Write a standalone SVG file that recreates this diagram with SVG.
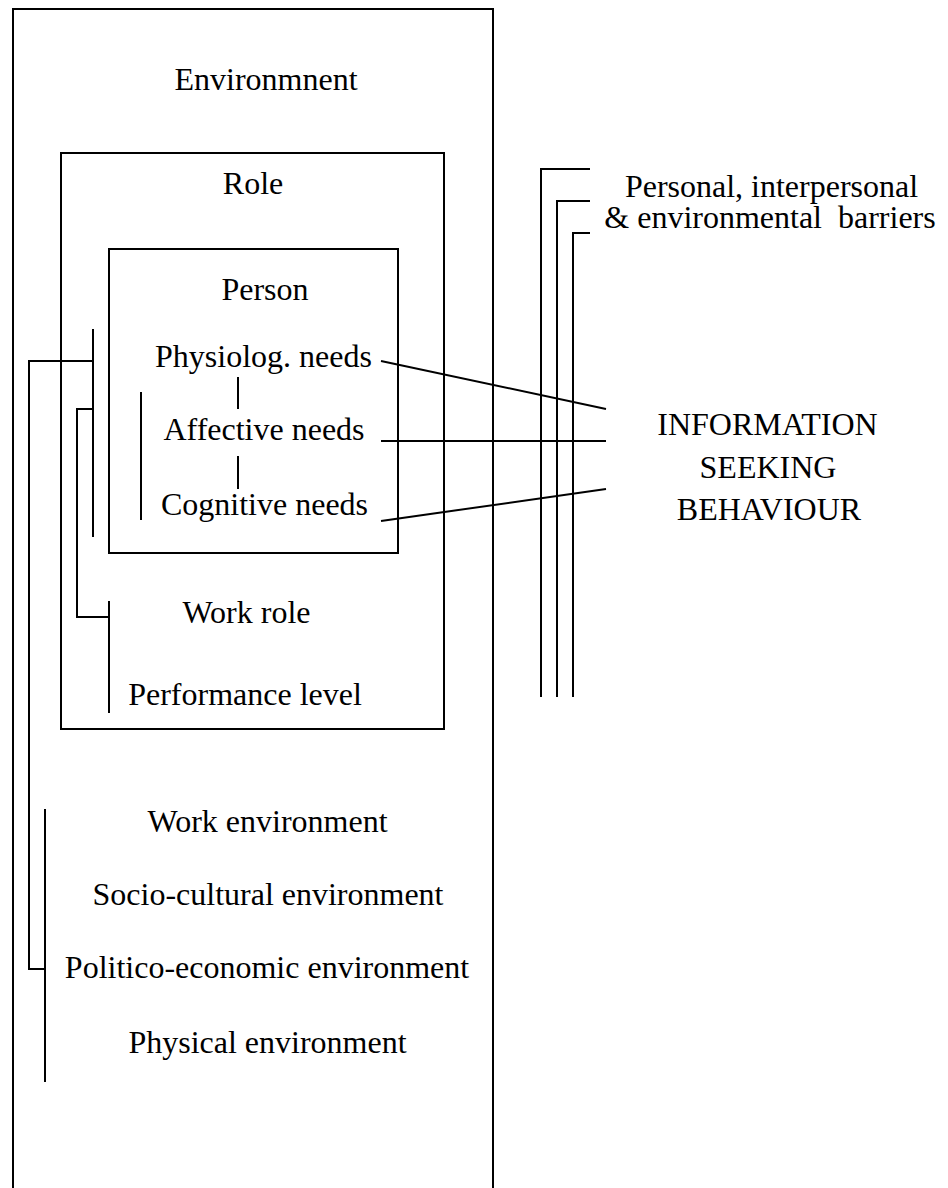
<svg xmlns="http://www.w3.org/2000/svg" width="948" height="1188" viewBox="0 0 948 1188">
<style>
text{font-family:"Liberation Serif","Times New Roman",serif;font-size:32px;fill:#000;text-anchor:middle}
.b{fill:none;stroke:#000;stroke-width:2}
.c line,.c polyline{fill:none;stroke:#000;stroke-width:2}
</style>
<rect width="948" height="1188" fill="#fff"/>
<g id="environment">
<rect class="b" x="13" y="9" width="480" height="1200"/>
<text x="266" y="90">Environmnent</text>
<text x="267.5" y="832">Work environment</text>
<text x="268" y="905">Socio-cultural environment</text>
<text x="267" y="978">Politico-economic environment</text>
<text x="267.5" y="1053">Physical environment</text>
</g>
<g id="role">
<rect class="b" x="61" y="153" width="383" height="576"/>
<text x="253" y="194">Role</text>
<text x="246.5" y="623">Work role</text>
<text x="245" y="705">Performance level</text>
</g>
<g id="person">
<rect class="b" x="109" y="249" width="289" height="304"/>
<text x="265" y="300">Person</text>
<text x="263.5" y="367">Physiolog. needs</text>
<text x="264" y="440">Affective needs</text>
<text x="264.5" y="515">Cognitive needs</text>
</g>
<g id="info">
<text x="767.5" y="435">INFORMATION</text>
<text x="768" y="478">SEEKING</text>
<text x="769" y="520">BEHAVIOUR</text>
</g>
<g id="barriers">
<text x="771.5" y="197">Personal, interpersonal</text>
<text x="770" y="228" xml:space="preserve">&amp; environmental  barriers</text>
</g>
<g id="connectors" class="c">
<line x1="238" y1="377" x2="238" y2="409"/>
<line x1="238" y1="456" x2="238" y2="489"/>
<line x1="141" y1="392" x2="141" y2="520"/>
<line x1="93" y1="329" x2="93" y2="537"/>
<polyline points="93,361 29,361 29,969 45,969"/>
<line x1="45" y1="809" x2="45" y2="1082"/>
<polyline points="93,409 77,409 77,617 109,617"/>
<line x1="109" y1="601" x2="109" y2="713"/>
<line x1="381" y1="361" x2="606" y2="409"/>
<line x1="381" y1="441" x2="606" y2="441"/>
<line x1="381" y1="521" x2="606" y2="489"/>
<polyline points="590,169 541,169 541,697"/>
<polyline points="590,201 557,201 557,697"/>
<polyline points="590,233 573,233 573,697"/>
</g>
</svg>
